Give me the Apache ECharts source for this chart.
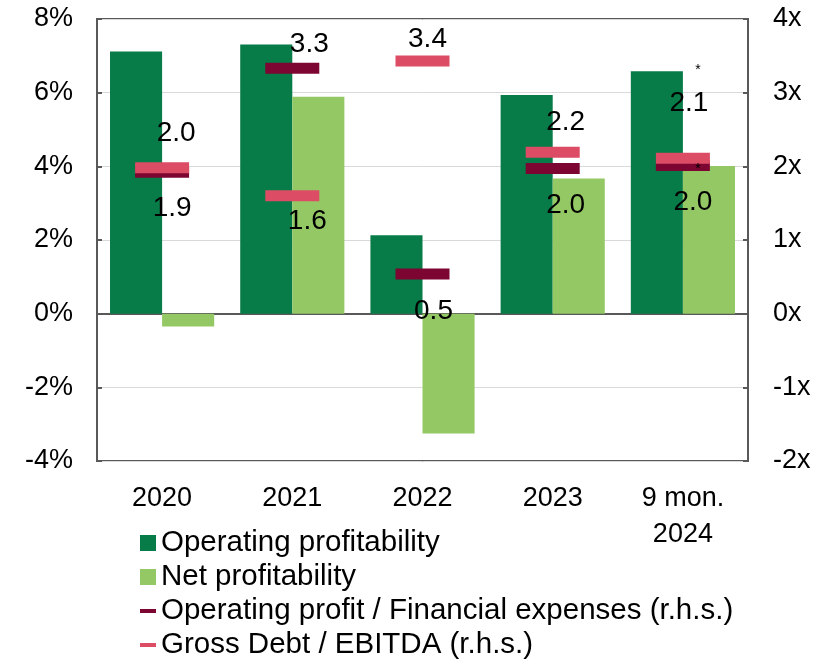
<!DOCTYPE html>
<html>
<head>
<meta charset="utf-8">
<script src="https://cdn.jsdelivr.net/npm/echarts@6/dist/echarts.min.js"></script>
<style>
html, body { margin: 0; padding: 0; background: #fff; }
#chart { width: 832px; height: 661px; }
</style>
</head>
<body>
<div id="chart"></div>
<script>
// data
var categories = ['2020', '2021', '2022', '2023', '9 mon.\n2024'];
var operatingProfitability = [7.12, 7.31, 2.13, 5.94, 6.58];
var netProfitability = [-0.35, 5.89, -3.25, 3.67, 4.01];
var opProfitFinExp = [1.92, 3.33, 0.54, 1.97, 2.01];
var grossDebtEbitda = [1.98, 1.60, 3.43, 2.19, 2.11];

// label placement (px offsets from the marker centre)
var opProfitLabelOffset = [[10, 36], [17, -24], [11, 37], [13, 37], [10, 37]];
var grossDebtLabelOffset = [[14, -35], [15, 25], [5, -22], [13, -30], [6, -55]];

var font = 'Liberation Sans, Arial, sans-serif';
var axisColor = '#595959';

function withLabels(values, offsets) {
	var res = [];
	for (var i = 0; i < values.length; i++) {
		res.push({ value: values[i], label: { offset: offsets[i] } });
	}
	return res;
}

var markerLabel = {
	show: true,
	position: 'inside',
	color: '#000',
	fontSize: 28,
	fontFamily: font,
	formatter: function (p) { return p.value.toFixed(1); }
};

var option = {
	animation: false,
	backgroundColor: '#fff',
	grid: {
		left: 97, right: 84, top: 19, bottom: 200,
		show: true, borderColor: axisColor, borderWidth: 2
	},
	legend: {
		orient: 'vertical',
		left: 140,
		top: 528,
		padding: 0,
		height: 140,
		itemWidth: 16,
		itemHeight: 16,
		itemGap: 4,
		textStyle: { fontSize: 29.5, fontFamily: font, color: '#000', lineHeight: 29 },
		data: [
			{ name: 'Operating profitability', icon: 'rect' },
			{ name: 'Net profitability', icon: 'rect' },
			{ name: 'Operating profit / Financial expenses (r.h.s.)', icon: 'path://M0,0h16v4h-16z' },
			{ name: 'Gross Debt / EBITDA (r.h.s.)', icon: 'path://M0,0h16v4h-16z' }
		]
	},
	xAxis: [
		{
			type: 'category',
			data: categories,
			axisLine: { onZero: true, lineStyle: { color: axisColor, width: 2 } },
			axisTick: { show: false },
			axisLabel: { show: false }
		},
		{
			type: 'category',
			data: categories,
			position: 'bottom',
			axisLine: { show: false },
			axisTick: { show: false },
			axisLabel: { fontSize: 27, fontFamily: font, color: '#000', margin: 20, lineHeight: 36 }
		}
	],
	yAxis: [
		{
			type: 'value',
			min: -4, max: 8, interval: 2,
			axisLine: { show: true, lineStyle: { color: axisColor, width: 2 } },
			axisTick: { show: true, inside: true, length: 5, lineStyle: { color: axisColor, width: 2 } },
			axisLabel: { formatter: '{value}%', fontSize: 27, fontFamily: font, color: '#000', margin: 24 },
			splitLine: { lineStyle: { color: '#d9d9d9', width: 1 } }
		},
		{
			type: 'value',
			min: -2, max: 4, interval: 1,
			axisLine: { show: true, lineStyle: { color: axisColor, width: 2 } },
			axisTick: { show: true, inside: true, length: 5, lineStyle: { color: axisColor, width: 2 } },
			axisLabel: { formatter: '{value}x', fontSize: 27, fontFamily: font, color: '#000', margin: 25 },
			splitLine: { show: false }
		}
	],
	series: [
		{
			name: 'Operating profitability',
			type: 'bar',
			data: operatingProfitability,
			barGap: '0%',
			barCategoryGap: '20%',
			itemStyle: { color: '#077b48' }
		},
		{
			name: 'Net profitability',
			type: 'bar',
			data: netProfitability,
			itemStyle: { color: '#93c865' }
		},
		{
			name: 'Operating profit / Financial expenses (r.h.s.)',
			type: 'scatter',
			yAxisIndex: 1,
			symbol: 'rect',
			symbolSize: [54, 11],
			symbolKeepAspect: true,
			itemStyle: { color: '#7c0531', opacity: 1 },
			label: markerLabel,
			data: withLabels(opProfitFinExp, opProfitLabelOffset),
			z: 3
		},
		{
			name: 'Gross Debt / EBITDA (r.h.s.)',
			type: 'scatter',
			yAxisIndex: 1,
			symbol: 'rect',
			symbolSize: [54, 11],
			symbolKeepAspect: true,
			itemStyle: { color: '#dc4c64', opacity: 1 },
			label: markerLabel,
			data: withLabels(grossDebtEbitda, grossDebtLabelOffset),
			z: 4
		}
	],
	graphic: [
		{ type: 'text', x: 698, y: 70, style: { text: '*', fontSize: 14, fontFamily: font, fill: '#000', textAlign: 'center', textVerticalAlign: 'middle' }, z: 10 },
		{ type: 'text', x: 698, y: 169, style: { text: '*', fontSize: 14, fontFamily: font, fill: '#000', textAlign: 'center', textVerticalAlign: 'middle' }, z: 10 }
	]
};

var chart = echarts.init(document.getElementById('chart'));
chart.setOption(option);
</script>
</body>
</html>
